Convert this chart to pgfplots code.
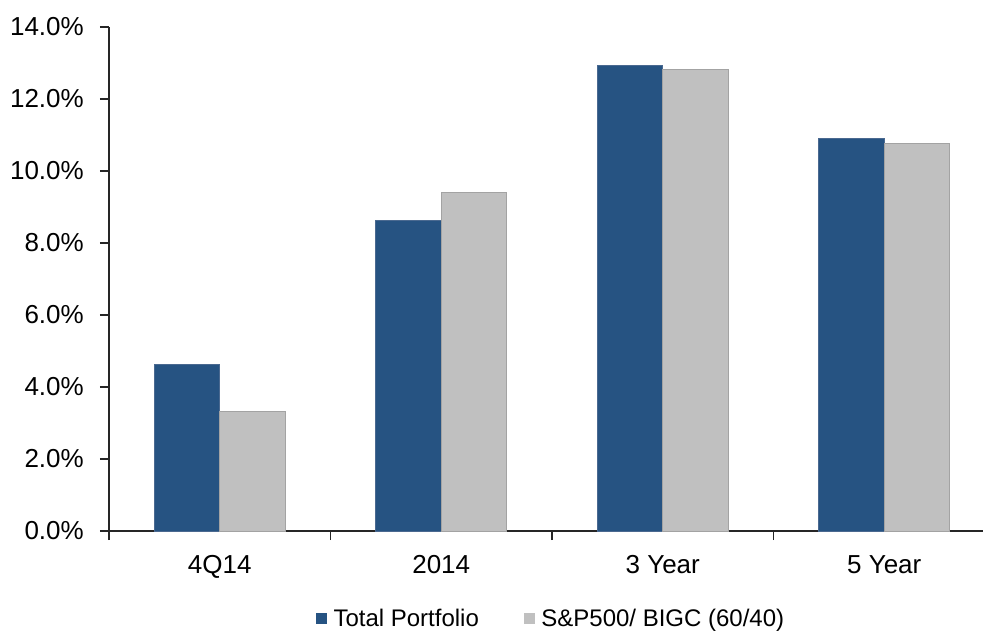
\documentclass[border=0pt]{standalone}
\usepackage{fontspec}
\setmainfont{Liberation Sans}
\usepackage{pgfplots}
\pgfplotsset{compat=1.18}

\definecolor{tpblue}{HTML}{265382}
\definecolor{tpedge}{HTML}{4A6990}
\definecolor{bmgray}{HTML}{C0C0C0}
\definecolor{bmedge}{HTML}{A3A3A3}
\definecolor{axisgray}{HTML}{262626}

\begin{document}
\begin{tikzpicture}
% fixed canvas: axis box origin sits 109pt from the left and 101pt from the bottom
\useasboundingbox (-109pt,-101pt) rectangle (875pt,531pt);
\begin{axis}[
  at={(0pt,0pt)}, anchor=south west,
  scale only axis, width=874pt, height=504pt,
  ybar=0pt, bar width=65.5pt,
  xmin=-0.5, xmax=3.446, ymin=0, ymax=14,
  axis x line*=bottom, axis y line*=left,
  axis line style={line width=1.3pt, color=axisgray},
  tick align=outside, major tick length=9pt,
  tick style={line width=1.3pt, color=axisgray},
  xtick={-0.5,0.5,1.5,2.5}, xticklabels={},
  extra x ticks={0,1,2,3},
  extra x tick labels={4Q14,2014,3 Year,5 Year},
  extra x tick style={major tick length=0pt},
  xticklabel style={inner sep=0pt, anchor=north, yshift=-24pt},
  ytick={0,2,4,6,8,10,12,14},
  yticklabel={\pgfmathprintnumber[fixed,fixed zerofill,precision=1]{\tick}\%},
  yticklabel style={inner sep=0pt, anchor=east, xshift=-16pt},
  /pgf/number format/assume math mode=true,
  ticklabel style={font=\fontsize{26}{30}\selectfont, text=black},
  legend columns=2,
  legend style={
    at={(207pt,-87.7pt)}, anchor=west,
    draw=none, fill=none, inner sep=0pt, outer sep=0pt,
    font=\fontsize{24}{28}\selectfont,
    nodes={inner sep=0pt, anchor=base west},
    /tikz/column 1/.style={column sep=6.5pt},
    /tikz/column 2/.style={column sep=45pt},
    /tikz/column 3/.style={column sep=6.5pt},
  },
  legend image code/.code={\fill[#1,draw=none] (0pt,3pt) rectangle (11pt,14pt);},
]
\addplot[fill=tpblue, draw=tpedge, line width=0.8pt]
  coordinates {(0,4.63) (1,8.63) (2,12.94) (3,10.91)};
\addplot[fill=bmgray, draw=bmedge, line width=0.8pt]
  coordinates {(0,3.31) (1,9.41) (2,12.83) (3,10.77)};
\legend{Total Portfolio, S\&P500/ BIGC (60/40)}
\end{axis}
\end{tikzpicture}
\end{document}
